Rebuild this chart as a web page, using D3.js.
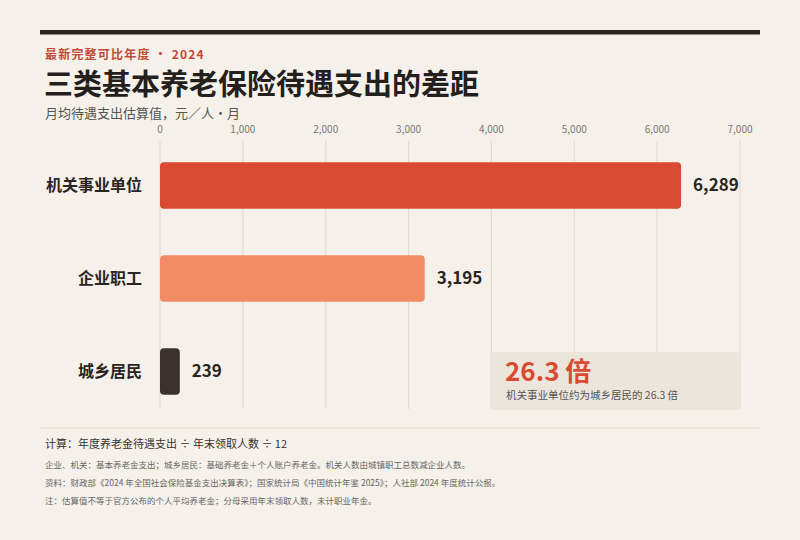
<!DOCTYPE html>
<html>
<head>
<meta charset="utf-8">
<script src="https://cdn.jsdelivr.net/npm/d3@7"></script>
<style>
  html, body { margin: 0; padding: 0; background: #f5f1ea; }
  svg { display: block; font-family: "Noto Sans CJK SC", "Noto Sans", sans-serif; }
</style>
</head>
<body>
<svg id="chart" width="800" height="540"></svg>
<script>
var categories = ["机关事业单位", "企业职工", "城乡居民"];
var values = [6289, 3195, 239];
var barColors = ["#d84a31", "#f28c65", "#3a302e"];
var ticks = [0, 1000, 2000, 3000, 4000, 5000, 6000, 7000];
var ratio = (values[0] / values[2]).toFixed(1);

var notes = [
  "企业、机关：基本养老金支出；城乡居民：基础养老金＋个人账户养老金。机关人数由城镇职工总数减企业人数。",
  "资料：财政部《2024 年全国社会保险基金支出决算表》；国家统计局《中国统计年鉴 2025》；人社部 2024 年度统计公报。",
  "注：估算值不等于官方公布的个人平均养老金；分母采用年末领取人数，未计职业年金。"
];

var svg = d3.select("#chart");

svg.append("rect").attr("x", 40).attr("y", 30).attr("width", 720).attr("height", 4.5).attr("fill", "#2a2521");

svg.append("text").attr("x", 45).attr("y", 59)
  .attr("font-size", 12).attr("font-weight", 700).attr("fill", "#c04a36")
  .attr("letter-spacing", "1.2px")
  .text("最新完整可比年度 · 2024");

svg.append("text").attr("x", 44).attr("y", 95)
  .attr("font-size", 29).attr("font-weight", 700).attr("fill", "#241f1c")
  .text("三类基本养老保险待遇支出的差距");

svg.append("text").attr("x", 45).attr("y", 118)
  .attr("font-size", 13).attr("fill", "#555")
  .text("月均待遇支出估算值，元／人·月");

var x = d3.scaleLinear().domain([0, 7000]).range([160, 740]);
var y = d3.scaleBand().domain(categories).range([139, 418]).paddingInner(0.5).paddingOuter(0.25);

// grid
svg.append("g").selectAll("line").data(ticks).enter().append("line")
  .attr("x1", function(d){ return x(d); })
  .attr("x2", function(d){ return x(d); })
  .attr("y1", 141).attr("y2", 409)
  .attr("stroke", "#e2dbd2").attr("stroke-width", 1.2);

svg.append("g").selectAll("text").data(ticks).enter().append("text")
  .attr("x", function(d){ return x(d); })
  .attr("y", 132.5)
  .attr("text-anchor", "middle")
  .attr("font-size", 10).attr("fill", "#777")
  .text(d3.format(","));

// bars
svg.append("g").selectAll("rect").data(values).enter().append("rect")
  .attr("x", x(0))
  .attr("y", function(d, i){ return y(categories[i]); })
  .attr("width", function(d){ return x(d) - x(0); })
  .attr("height", y.bandwidth())
  .attr("rx", 4)
  .attr("fill", function(d, i){ return barColors[i]; });

svg.append("g").selectAll("text").data(categories).enter().append("text")
  .attr("x", 142)
  .attr("y", function(d){ return y(d) + y.bandwidth() / 2; })
  .attr("dy", "0.35em")
  .attr("text-anchor", "end")
  .attr("font-size", 16).attr("font-weight", 700).attr("fill", "#2a2521")
  .text(function(d){ return d; });

svg.append("g").selectAll("text").data(values).enter().append("text")
  .attr("x", function(d){ return x(d) + 12; })
  .attr("y", function(d, i){ return y(categories[i]) + y.bandwidth() / 2; })
  .attr("dy", "0.35em")
  .attr("font-size", 17).attr("font-weight", 700).attr("fill", "#2a2521")
  .text(d3.format(","));

// ratio callout
svg.append("rect").attr("x", 490).attr("y", 352).attr("width", 250).attr("height", 58)
  .attr("rx", 4).attr("fill", "#ece5dc");

svg.append("text").attr("x", 505).attr("y", 381)
  .attr("font-size", 26).attr("font-weight", 700).attr("fill", "#d84a31")
  .text(ratio + " 倍");

svg.append("text").attr("x", 506).attr("y", 399)
  .attr("font-size", 10.5).attr("fill", "#555")
  .text("机关事业单位约为城乡居民的 " + ratio + " 倍");

// footer
svg.append("line").attr("x1", 40).attr("x2", 760).attr("y1", 428).attr("y2", 428)
  .attr("stroke", "#ddd5cc").attr("stroke-width", 1.2);

svg.append("text").attr("x", 45).attr("y", 448)
  .attr("font-size", 11).attr("fill", "#3a3330")
  .text("计算：年度养老金待遇支出 ÷ 年末领取人数 ÷ 12");

svg.append("g").selectAll("text").data(notes).enter().append("text")
  .attr("x", 45)
  .attr("y", function(d, i){ return 468 + i * 18; })
  .attr("font-size", 8.5).attr("fill", "#666")
  .text(function(d){ return d; });
</script>
</body>
</html>
